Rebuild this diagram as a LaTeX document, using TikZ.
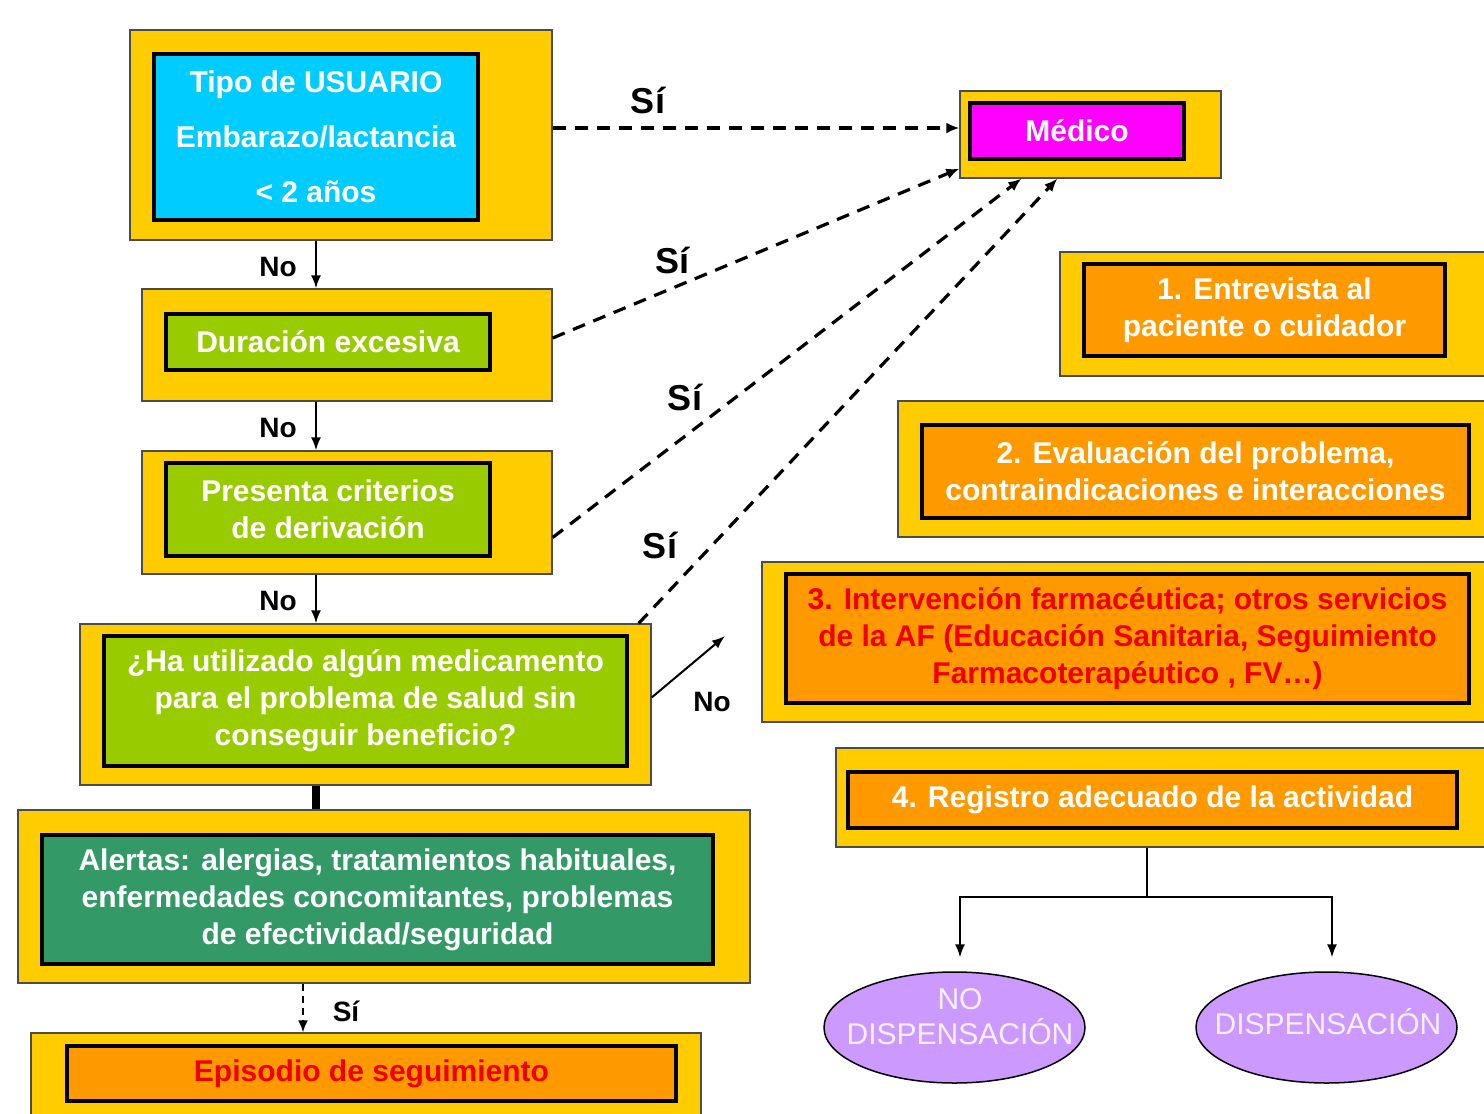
\documentclass[tikz,border=0pt]{standalone}
\usepackage{fontspec}
\setmainfont{Liberation Sans}
\usetikzlibrary{arrows.meta,calc,shapes.geometric}
\definecolor{ylw}{HTML}{FFCC00}
\definecolor{cyanb}{HTML}{00CCFF}
\definecolor{magb}{HTML}{FF00FF}
\definecolor{lgreen}{HTML}{99CC00}
\definecolor{dgreen}{HTML}{339966}
\definecolor{orng}{HTML}{FF9900}
\definecolor{redt}{HTML}{F00000}
\definecolor{lilac}{HTML}{CC99FF}
\definecolor{liltxt}{HTML}{F8F0FF}
\begin{document}
\begin{tikzpicture}[x=1pt,y=-1pt,
  outerbox/.style={draw=black!70, line width=1.3pt, fill=ylw, inner sep=0pt},
  innerbox/.style={draw=black, line width=3.5pt, inner sep=0pt, align=center,
    font=\fontsize{30}{37}\selectfont\bfseries, text=white},
  lbl/.style={font=\fontsize{28}{32}\selectfont\bfseries, text=black},
  bigl/.style={font=\fontsize{36}{40}\selectfont\bfseries, text=black},
  dasharr/.style={line width=3.2pt, dash pattern=on 13pt off 9pt, -{Latex[length=13pt,width=11pt]}},
  solarr/.style={line width=2pt, -{Latex[length=13pt,width=10pt]}},
  ell/.style={ellipse, draw=black, line width=1.5pt, fill=lilac, inner sep=0pt,
    minimum width=261pt, minimum height=111pt},
  elltxt/.style={align=center, inner sep=0pt, font=\fontsize{30}{35}\selectfont, text=liltxt}]
\useasboundingbox (0,0) rectangle (1484,1114);
\clip (0,0) rectangle (1484,1114);

% left column
\node[outerbox, minimum width=422pt, minimum height=210pt] (o1) at (341,135) {};
\node[innerbox, fill=cyanb, minimum width=324pt, minimum height=166pt,
  font=\fontsize{30}{55}\selectfont\bfseries] (i1) at (316,137)
  {Tipo de USUARIO\\Embarazo/lactancia\\{\normalfont\bfseries<} 2 años};

\node[outerbox, minimum width=410pt, minimum height=112pt] (o2) at (347,345) {};
\node[innerbox, fill=lgreen, minimum width=324pt, minimum height=56pt] (i2) at (328,342)
  {Duración excesiva};

\node[outerbox, minimum width=410pt, minimum height=123pt] (o3) at (347,512.5) {};
\node[innerbox, fill=lgreen, minimum width=324pt, minimum height=93pt] (i3) at (328,509.5)
  {Presenta criterios\\de derivación};

\node[outerbox, minimum width=571pt, minimum height=161pt] (o4) at (365.5,704.5) {};
\node[innerbox, fill=lgreen, minimum width=523pt, minimum height=130pt] (i4) at (365.5,701)
  {¿Ha utilizado algún medicamento\\para el problema de salud sin\\conseguir beneficio?};

\node[outerbox, minimum width=732pt, minimum height=173pt] (o5) at (384,896.5) {};
\node[innerbox, fill=dgreen, minimum width=671pt, minimum height=129pt] (i5) at (377.5,899.5)
  {Alertas: alergias, tratamientos habituales,\\enfermedades concomitantes, problemas\\de efectividad/seguridad};

\node[outerbox, minimum width=670pt, minimum height=97pt] (o6) at (366,1081.5) {};
\node[innerbox, fill=orng, text=redt, minimum width=609pt, minimum height=55pt] (i6) at (371.5,1073.5)
  {Episodio de seguimiento};

% Medico
\node[outerbox, minimum width=261pt, minimum height=87pt] (mo) at (1090.5,134.5) {};
\node[innerbox, fill=magb, minimum width=214pt, minimum height=56pt] (mi) at (1077,131)
  {Médico};

% right column
\node[outerbox, minimum width=435pt, minimum height=124pt] (r1o) at (1277.5,314) {};
\node[innerbox, fill=orng, minimum width=361pt, minimum height=92pt] (r1i) at (1264.5,310)
  {1. Entrevista al\\paciente o cuidador};

\node[outerbox, minimum width=597pt, minimum height=136pt] (r2o) at (1196.5,469) {};
\node[innerbox, fill=orng, minimum width=547pt, minimum height=93pt] (r2i) at (1195.5,471.5)
  {2. Evaluación del problema,\\contraindicaciones e interacciones};

\node[outerbox, minimum width=733pt, minimum height=160pt] (r3o) at (1128.5,642) {};
\node[innerbox, fill=orng, text=redt, minimum width=683pt, minimum height=129pt] (r3i) at (1127.5,638.5)
  {3. Intervención farmacéutica; otros servicios\\de la AF (Educación Sanitaria, Seguimiento\\Farmacoterapéutico , FV…)};

\node[outerbox, minimum width=659pt, minimum height=99pt] (r4o) at (1165.5,797.5) {};
\node[innerbox, fill=orng, minimum width=609pt, minimum height=56pt] (r4i) at (1152.5,800)
  {4. Registro adecuado de la actividad};

% ellipses
\node[ell] (e1) at (954.5,1027.5) {};
\node[elltxt] (t1) at (960,1017) {NO\\DISPENSACIÓN};
\node[ell] (e2) at (1326.5,1027.5) {};
\node[elltxt] (t2) at (1328,1022) {DISPENSACIÓN};

% vertical flow
\coordinate (ax) at (316,0);
\coordinate (bx) at (303,0);
\draw[solarr] (ax|-o1.south) -- (ax|-o2.north);
\draw[solarr] (ax|-o2.south) -- (ax|-o3.north);
\draw[solarr] (ax|-o3.south) -- (ax|-o4.north);
\draw[line width=8pt] (ax|-o4.south) -- (ax|-o5.north);
\draw[line width=2pt, dash pattern=on 7pt off 5pt, -{Latex[length=12pt,width=10pt]}] (bx|-o5.south) -- (bx|-o6.north);
\node[lbl] (n1) at (278,267) {No};
\node[lbl] (n2) at (278,428) {No};
\node[lbl] (n3) at (278,601) {No};
\node[lbl] (s5) at (346,1011) {Sí};

% dashed arrows to Medico
\draw[dasharr] ([yshift=7pt]o1.east) -- ([yshift=6.5pt]mo.west);
\draw[dasharr] ([yshift=7pt]o2.east) -- ([yshift=10pt]mo.south west);
\draw[dasharr] ([yshift=-25pt]o3.east) -- ([xshift=62pt]mo.south west);
\draw[dasharr] ([xshift=-13pt]o4.north east) -- ([xshift=98pt]mo.south west);
\node[bigl] (s1) at (648,100) {Sí};
\node[bigl] (s2) at (672,260) {Sí};
\node[bigl] (s3) at (685,397) {Sí};
\node[bigl] (s4) at (660,545) {Sí};

% No arrow
\coordinate (nt) at (725,636);
\draw[solarr] ([yshift=7pt]o4.east) -- (nt);
\node[lbl] (n4) at (712,702) {No};

% bottom tree
\coordinate (jn) at (1147,897);
\draw[line width=1.5pt] ([xshift=-18.5pt]r4o.south) -- (jn);
\draw[line width=1.5pt, -{Latex[length=13pt,width=10pt]}] (jn) -| ([xshift=5.5pt,yshift=14pt]e1.north);
\draw[line width=1.5pt, -{Latex[length=13pt,width=10pt]}] (jn) -| ([xshift=5.5pt,yshift=14pt]e2.north);
\end{tikzpicture}
\end{document}
